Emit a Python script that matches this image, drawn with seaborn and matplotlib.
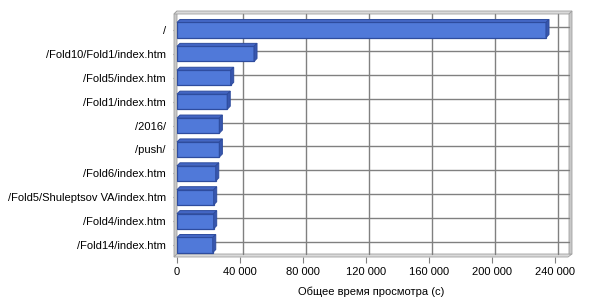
import numpy as np
import pandas as pd
import seaborn as sns
import matplotlib
matplotlib.use("Agg")
import matplotlib.pyplot as plt
from matplotlib.patches import Polygon
from matplotlib.lines import Line2D
from matplotlib.transforms import IdentityTransform

# ---- data ----
pages = ["/", "/Fold10/Fold1/index.htm", "/Fold5/index.htm", "/Fold1/index.htm",
         "/2016/", "/push/", "/Fold6/index.htm", "/Fold5/Shuleptsov VA/index.htm",
         "/Fold4/index.htm", "/Fold14/index.htm"]
seconds = [234300, 48900, 34100, 31900, 26900, 26900, 24600, 23300, 23300, 22700]
x_ticks = [0, 40000, 80000, 120000, 160000, 200000, 240000]
x_tick_labels = ["0", "40 000", "80 000", "120 000", "160 000", "200 000", "240 000"]
x_label = "Общее время просмотра (с)"

df = pd.DataFrame({"page": pages, "seconds": seconds})

FRONT = "#5079D9"
EDGE = "#2E4C9E"
TOP = "#4366C4"
SIDE = "#3857AE"
GRID = "#808080"
WALL = "#C8C8C8"
WALL_EDGE = "#A0A0A0"
D = 3.0  # 3D depth in pixels

sns.set_theme(style="white")
plt.rcParams["font.family"] = ["Liberation Sans", "DejaVu Sans"]

W, H = 600, 300
fig = plt.figure(figsize=(W / 100, H / 100), dpi=100)
fig.patch.set_facecolor("white")
ax_left, ax_right, ax_top, ax_bot = 177, 566, 17, 257
ax = fig.add_axes([ax_left / W, 1 - ax_bot / H, (ax_right - ax_left) / W, (ax_bot - ax_top) / H])
ax.set_facecolor("none")

sns.barplot(data=df, x="seconds", y="page", orient="h", color=FRONT, saturation=1,
            width=0.63, edgecolor=EDGE, linewidth=0.9, ax=ax, zorder=4)

ax.set_xlim(0, 247000)
ax.set_ylim(9.502, -0.544)
for s in ax.spines.values():
    s.set_visible(False)
ax.set_xticks(x_ticks)
ax.set_xticklabels(x_tick_labels)
ax.tick_params(axis="x", length=4, width=0.8, color=GRID, pad=3, labelsize=8, labelcolor="black", bottom=True)
ax.tick_params(axis="y", length=3, width=0.8, color=GRID, pad=5, labelsize=8, labelcolor="black", left=True)
ax.set_ylabel("")
ax.set_xlabel(x_label, fontsize=8, color="black", labelpad=7)

T = ax.transData
X0, Ybot = T.transform((0, 9.502))
Xr, Ytop = T.transform((247000, -0.544))
ident = IdentityTransform()

def poly(pts, fc, ec=None, lw=0.0, z=1):
    p = Polygon(pts, closed=True, facecolor=fc, edgecolor=ec if ec else fc, linewidth=lw,
                transform=ident, zorder=z, clip_on=False)
    fig.add_artist(p) if False else ax.add_artist(p)

def line(xs, ys, c=GRID, lw=1.0, z=2):
    l = Line2D(xs, ys, color=c, linewidth=lw, transform=ident, zorder=z, clip_on=False)
    ax.add_artist(l)

# walls
poly([(X0 - D, Ybot), (X0 - D, Ytop + D), (X0, Ytop + 2 * D), (X0, Ybot + D)], WALL, WALL_EDGE, 0.6, 1)
poly([(X0 - D, Ybot), (Xr + 2, Ybot), (Xr + D + 3, Ybot + D), (X0, Ybot + D)], "#DADADA", WALL_EDGE, 0.6, 1)
poly([(X0 - D, Ytop + D), (Xr + D, Ytop + D), (Xr + D + 3, Ytop + 2 * D), (X0, Ytop + 2 * D)], "#DADADA", WALL_EDGE, 0.6, 1)
poly([(Xr + D, Ybot + D), (Xr + D, Ytop + D), (Xr + D + 3, Ytop + 2 * D), (Xr + D + 3, Ybot + D)], WALL, WALL_EDGE, 0.6, 1)

# grid on back wall
for t in x_ticks[1:]:
    gx, _ = T.transform((t, 0))
    line([gx + D, gx + D], [Ybot + D, Ytop + D], GRID, 1.0, 2)
for i in range(len(pages)):
    _, gy = T.transform((0, i))
    line([X0 + D, Xr + D], [gy + D, gy + D], GRID, 1.0, 2)

# 3D faces of bars
for p in ax.patches:
    if not hasattr(p, "get_width"):
        continue
    x0, w, y0, h = p.get_x(), p.get_width(), p.get_y(), p.get_height()
    (A, B) = T.transform((x0, y0))
    (C, Dd) = T.transform((x0 + w, y0 + h))
    xl, xr = min(A, C), max(A, C)
    yb, yt = min(B, Dd), max(B, Dd)
    poly([(xl, yt), (xr, yt), (xr + D, yt + D), (xl + D, yt + D)], TOP, EDGE, 0.7, 5)
    poly([(xr, yb), (xr, yt), (xr + D, yt + D), (xr + D, yb + D)], SIDE, EDGE, 0.7, 5)

fig.savefig("out.png", dpi=100, facecolor="white")
